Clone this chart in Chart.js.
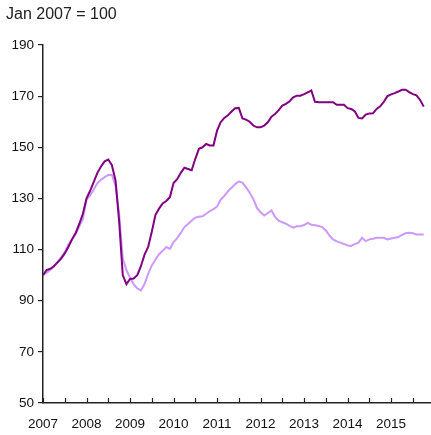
<!DOCTYPE html>
<html>
<head>
<meta charset="utf-8">
<script src="https://cdn.jsdelivr.net/npm/chart.js@4.4.0/dist/chart.umd.min.js"></script>
<style>
html,body{margin:0;padding:0;background:#fff;}
#wrap{width:431px;height:435px;position:relative;}
</style>
</head>
<body>
<div id="wrap"><canvas id="c" width="431" height="435"></canvas></div>
<script>
const subtitle = "Jan 2007 = 100";
// months since Jan 2007
const months = Array.from({length:106}, (_, i) => i);
const yearLabels = ["2007","2008","2009","2010","2011","2012","2013","2014","2015"];
const yTicks = [50, 70, 90, 110, 130, 150, 170, 190];
const darkSeries = [
 100,102,102.5,103.5,105,106.5,108.5,111,114,116.5,120,124,
 130,133,136.5,140,142.5,144.5,145.2,143,137,121,100,96.5,
 98.5,98.7,100,103.5,108,111,117,123.5,126,128,129,130.5,
 136,137.5,140,142,141.5,141,145.5,149.4,150,151.3,150.7,150.7,
 156.5,159.8,161.5,162.5,164,165.3,165.4,161.3,160.8,160,158.5,157.8,
 157.8,158.5,159.8,162,163,164.5,166.3,167,168,169.5,170.2,170.2,
 170.8,171.5,172.2,167.8,167.6,167.6,167.6,167.6,167.6,166.6,166.6,166.6,
 165.3,165,164,161.5,161.3,162.8,163.2,163.3,165,166,167.8,170,
 170.7,171.2,171.8,172.5,172.5,171.6,170.8,170.3,168.5,165.9
];
const lightSeries = [
 100,101,102,103.5,105,107,109,112,114,116,119,122,
 129.5,131.2,133.5,136,137.3,138.3,139.2,139.2,135,124,106.5,102,
 99,96.5,94.8,94,96.5,100.5,103.8,106,108.2,109.5,111,110.3,
 112.9,114.5,116.5,118.8,120,121.4,122.5,122.8,123,124,125,125.8,
 126.8,129.5,131,132.8,134.2,135.6,136.6,136.2,134.3,132.2,129.8,126.3,
 124.6,123.3,124.3,125.3,122.8,121.3,120.7,120.1,119.3,118.6,119.1,119.1,
 119.6,120.4,119.7,119.5,119.2,118.8,117.5,115.5,114,113.2,112.7,112.2,
 111.6,111.4,112.1,112.7,114.6,113.3,114,114.2,114.6,114.6,114.6,114,
 114.3,114.6,114.9,115.7,116.4,116.6,116.4,115.9,115.9,115.9
];

const axisColor = '#222222';
const fontFam = '"Liberation Sans", Arial, Helvetica, sans-serif';

const extras = {
  id: 'extras',
  afterDraw(chart) {
    const ctx = chart.ctx;
    const xs = chart.scales.x;
    const ca = chart.chartArea;
    ctx.save();
    ctx.strokeStyle = axisColor;
    ctx.lineWidth = 1.2;
    for (let m = 0; m <= 102; m += 6) {
      const px = Math.round(xs.getPixelForValue(m)) + 0.5;
      ctx.beginPath();
      ctx.moveTo(px, ca.bottom);
      ctx.lineTo(px, ca.bottom - 5);
      ctx.stroke();
    }
    ctx.fillStyle = '#222';
    ctx.font = '16px ' + fontFam;
    ctx.textBaseline = 'alphabetic';
    ctx.textAlign = 'left';
    ctx.fillText(subtitle, 6, 19);
    ctx.restore();
  }
};

new Chart(document.getElementById('c'), {
  type: 'line',
  data: {
    datasets: [
      { label: 'dark', data: months.map((m, i) => ({x: m, y: darkSeries[i]})),
        borderColor: '#800080', borderWidth: 2, pointRadius: 0, tension: 0, fill: false },
      { label: 'light', data: months.map((m, i) => ({x: m, y: lightSeries[i]})),
        borderColor: '#cc99ff', borderWidth: 2, pointRadius: 0, tension: 0, fill: false }
    ]
  },
  options: {
    responsive: false,
    animation: false,
    devicePixelRatio: 1,
    layout: { padding: { top: 45, left: 0, right: 0, bottom: 0 } },
    plugins: { legend: { display: false }, tooltip: { enabled: false }, title: { display: false } },
    scales: {
      x: {
        type: 'linear', min: 0, max: 107,
        afterFit(s) { s.height = 32; },
        grid: { display: true, drawOnChartArea: false, drawTicks: false },
        border: { display: true, color: axisColor, width: 1.5 },
        afterBuildTicks(s) { s.ticks = yearLabels.map((y, i) => ({ value: i * 12 })); },
        ticks: {
          autoSkip: false, maxRotation: 0, padding: 13, color: '#111',
          font: { family: fontFam, size: 13.5 },
          callback(v) { const i = Math.round(v / 12); return yearLabels[i] || ''; }
        }
      },
      y: {
        min: 50, max: 190,
        afterFit(s) { s.width = 43; },
        afterBuildTicks(s) { s.ticks = yTicks.map(v => ({ value: v })); },
        grid: { display: true, drawOnChartArea: false, drawTicks: true, tickLength: 5, color: axisColor, lineWidth: 1.2 },
        border: { display: true, color: axisColor, width: 1.5 },
        ticks: { padding: 4, color: '#111', font: { family: fontFam, size: 13.5 } }
      }
    }
  },
  plugins: [extras]
});
</script>
</body>
</html>
